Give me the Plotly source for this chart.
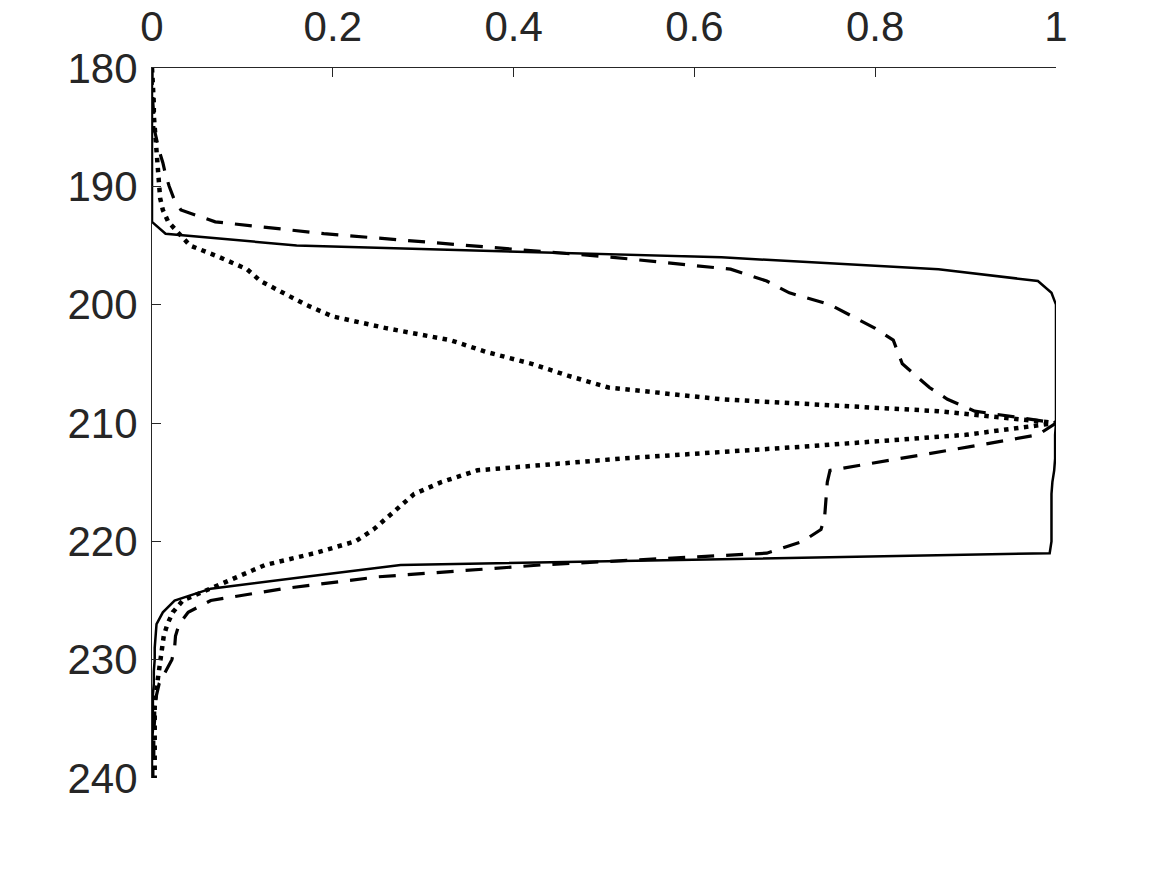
import plotly.graph_objects as go

depth = list(range(180, 241))

solid = [0.0, 0.0, 0.0, 0.0, 0.0, 0.0, 0.0, 0.0, 0.0, 0.0,          # 180-189
         0.0, 0.0, 0.0, 0.0, 0.015, 0.16, 0.63, 0.87, 0.98, 0.995,  # 190-199
         1.0, 1.0, 1.0, 1.0, 1.0, 1.0, 1.0, 1.0, 1.0, 1.0,          # 200-209
         1.0, 0.999, 0.999, 0.999, 0.998, 0.996, 0.995, 0.995, 0.995, 0.995,  # 210-219
         0.995, 0.993, 0.275, 0.17, 0.065, 0.025, 0.012, 0.005, 0.004, 0.003,  # 220-229
         0.003, 0.002, 0.002, 0.001, 0.001, 0.001, 0.001, 0.0, 0.0, 0.0,       # 230-239
         0.0]                                                                   # 240

dashed = [0.0, 0.0, 0.001, 0.001, 0.002, 0.002, 0.005, 0.008, 0.012, 0.015,   # 180-189
          0.019, 0.024, 0.032, 0.07, 0.19, 0.35, 0.51, 0.64, 0.68, 0.705,     # 190-199
          0.75, 0.775, 0.80, 0.82, 0.825, 0.83, 0.845, 0.86, 0.88, 0.91,      # 200-209
          1.0, 0.98, 0.905, 0.83, 0.75, 0.747, 0.746, 0.745, 0.744, 0.74,     # 210-219
          0.72, 0.68, 0.43, 0.25, 0.145, 0.065, 0.04, 0.03, 0.026, 0.025,     # 220-229
          0.022, 0.015, 0.008, 0.005, 0.003, 0.003, 0.002, 0.002, 0.002, 0.001,  # 230-239
          0.001]                                                                 # 240

dotted = [0.0, 0.001, 0.001, 0.002, 0.002, 0.003, 0.003, 0.004, 0.005, 0.006,  # 180-189
          0.007, 0.009, 0.012, 0.018, 0.03, 0.042, 0.075, 0.105, 0.12, 0.145,  # 190-199
          0.17, 0.2, 0.26, 0.33, 0.37, 0.42, 0.46, 0.505, 0.63, 0.87,          # 200-209
          1.0, 0.9, 0.72, 0.52, 0.36, 0.32, 0.29, 0.275, 0.26, 0.245,          # 210-219
          0.225, 0.18, 0.125, 0.095, 0.062, 0.034, 0.023, 0.017, 0.013, 0.011,  # 220-229
          0.009, 0.007, 0.005, 0.004, 0.003, 0.003, 0.003, 0.003, 0.003, 0.003,  # 230-239
          0.003]                                                                  # 240

x_ticks = [0, 0.2, 0.4, 0.6, 0.8, 1]
x_ticktext = ["0", "0.2", "0.4", "0.6", "0.8", "1"]
y_ticks = [180, 190, 200, 210, 220, 230, 240]

axis_color = "#262626"
font_family = "Liberation Sans, Arial, Helvetica, sans-serif"

fig = go.Figure()
fig.add_trace(go.Scatter(x=solid, y=depth, mode="lines",
                         line=dict(color="black", width=2.5), showlegend=False))
fig.add_trace(go.Scatter(x=dashed, y=depth, mode="lines",
                         line=dict(color="black", width=3.2, dash="17px,12px"), showlegend=False))
fig.add_trace(go.Scatter(x=dotted, y=depth, mode="lines",
                         line=dict(color="black", width=4.5, dash="4.5px,5.5px"), showlegend=False))

common = dict(showline=True, linecolor=axis_color, linewidth=1, ticks="inside",
              ticklen=9, tickcolor=axis_color, tickwidth=1, showgrid=False,
              zeroline=False, automargin=False,
              tickfont=dict(family=font_family, size=42, color=axis_color))

fig.update_layout(
    width=1167, height=875,
    margin=dict(l=152, r=111, t=68, b=97),
    paper_bgcolor="white", plot_bgcolor="white",
    xaxis=dict(side="top", range=[0, 1], tickvals=x_ticks, ticktext=x_ticktext,
               ticklabelstandoff=9, **common),
    yaxis=dict(range=[240, 180], tickvals=y_ticks, ticklabelstandoff=5, **common),
)

fig.write_html("out.html")
